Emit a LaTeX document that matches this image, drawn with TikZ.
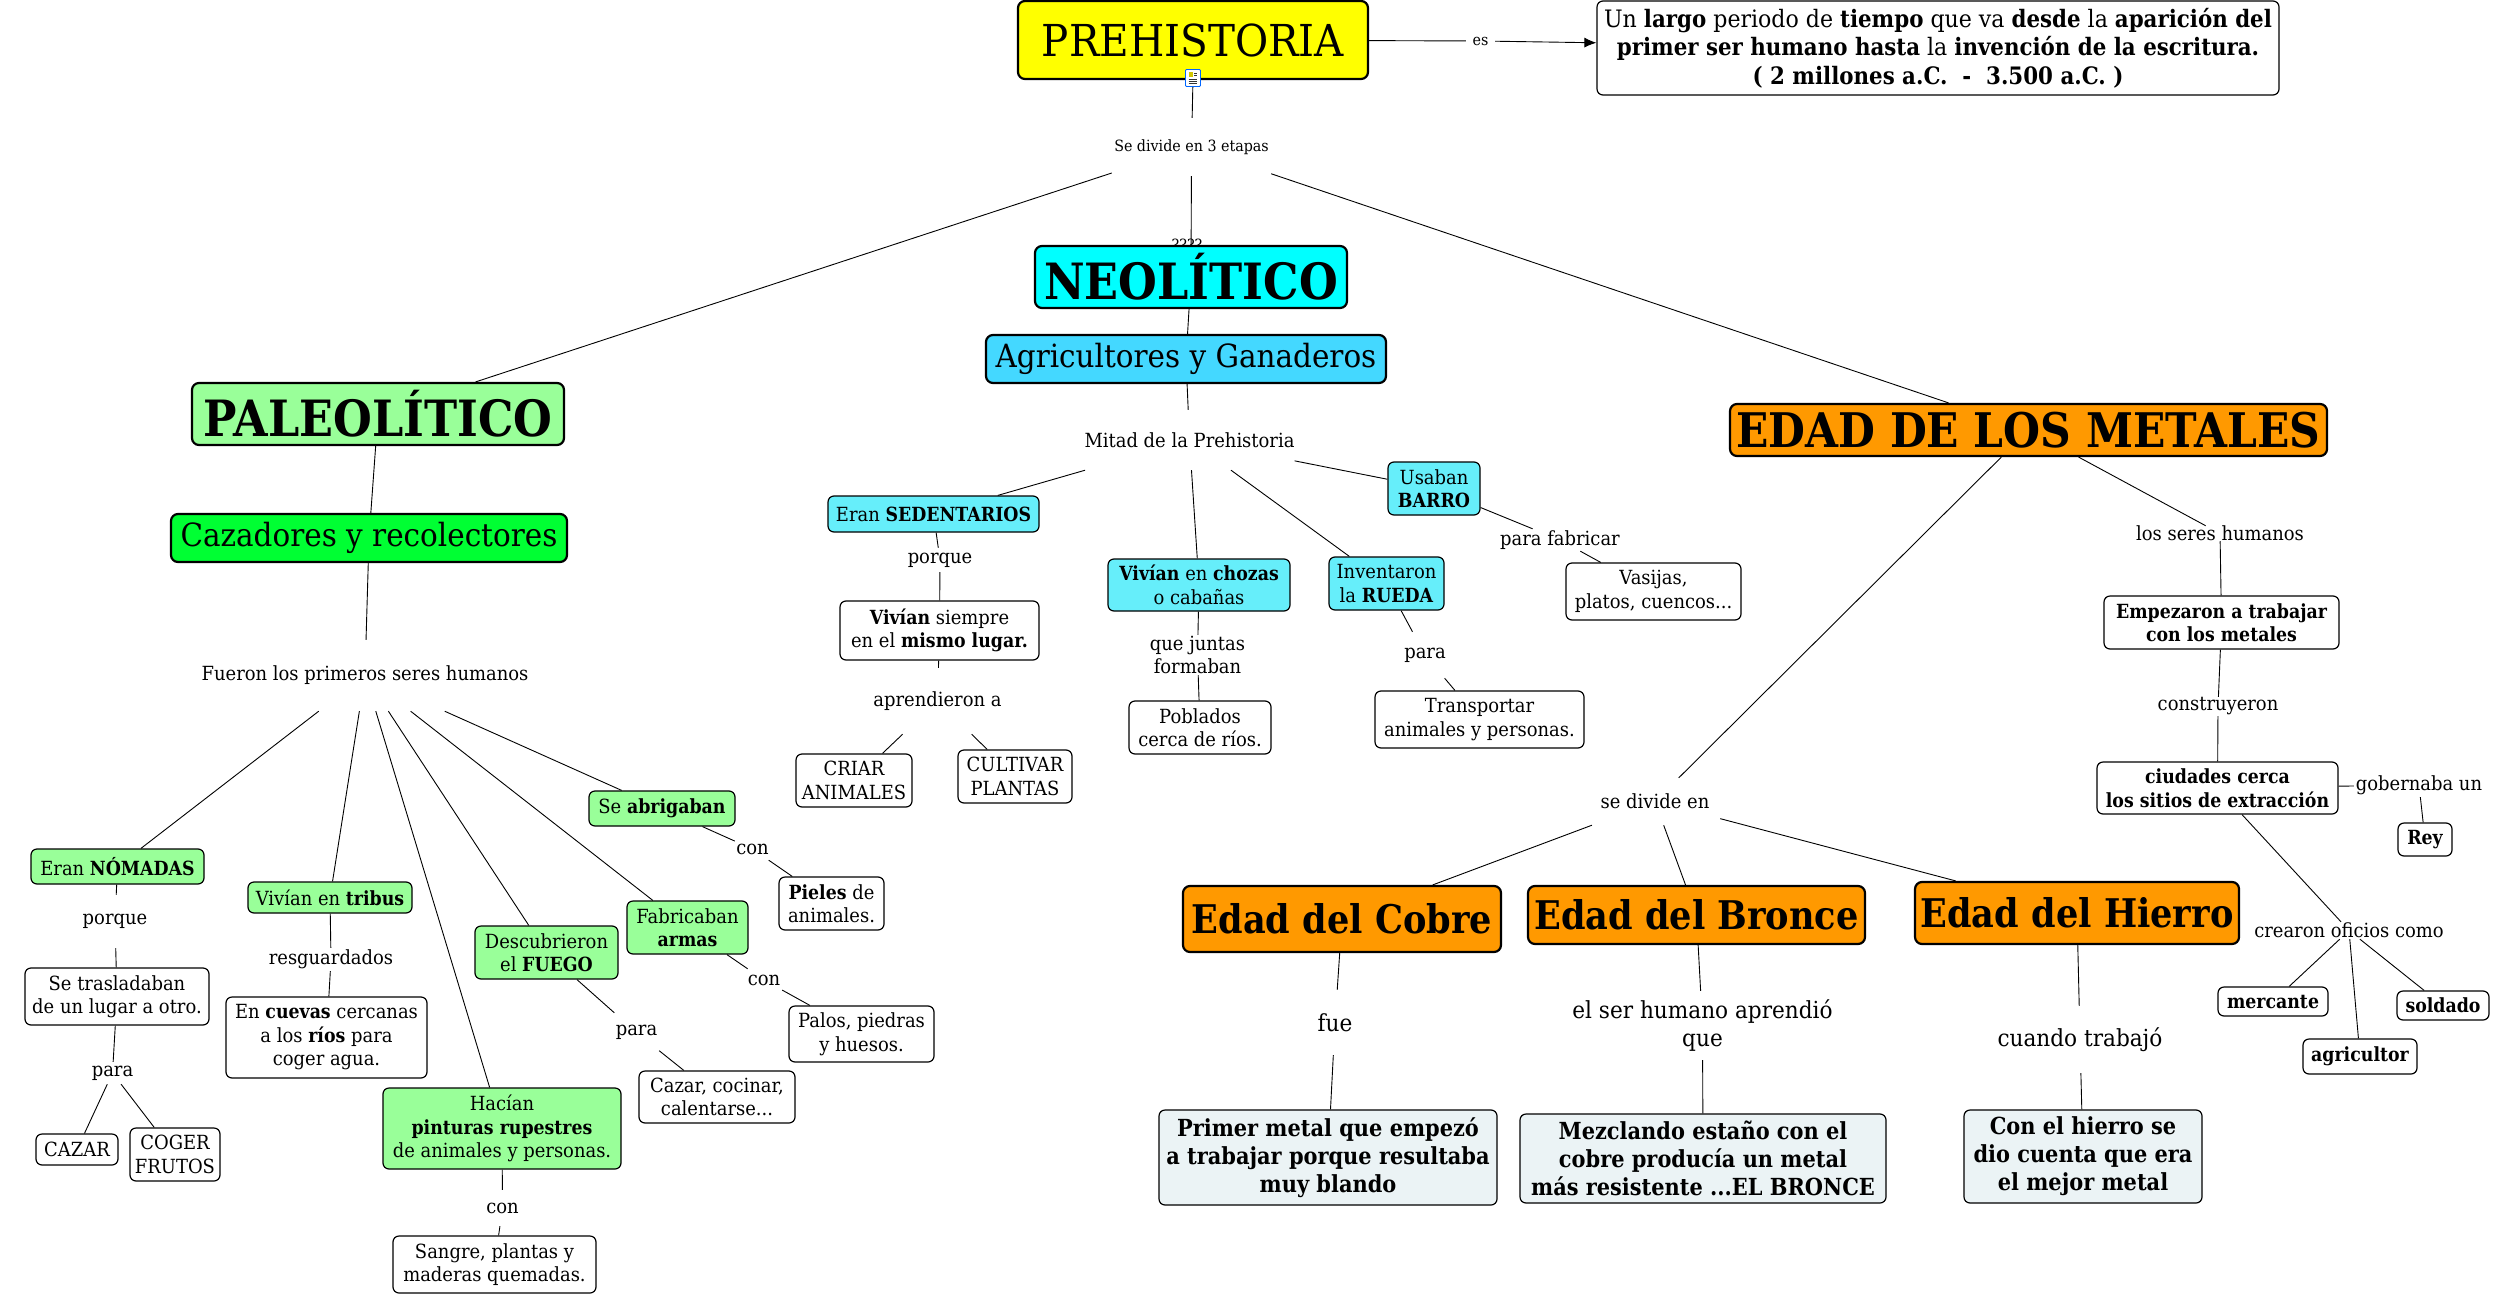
\documentclass[tikz,border=0pt]{standalone}
\usepackage{fontspec}
\setmainfont[FakeStretch=0.92,BoldFont={DejaVu Serif Bold},BoldFeatures={FakeStretch=0.89}]{DejaVu Serif}
\usetikzlibrary{arrows.meta,backgrounds}
\definecolor{palegreen}{HTML}{99FF99}
\definecolor{vivid}{HTML}{00FF33}
\definecolor{skyb}{HTML}{44D8FF}
\definecolor{lightcy}{HTML}{66EEFA}
\definecolor{orng}{HTML}{FF9900}
\definecolor{paleb}{HTML}{EBF3F5}
\definecolor{purecyan}{HTML}{00FFFF}
\definecolor{pureyellow}{HTML}{FFFF00}
\tikzset{
 anybox/.style={inner sep=0pt,align=center,rounded corners=6pt,draw=black,line width=1.2pt,text=black},
 lab/.style={inner sep=0pt,align=center,text=black,font=\fontsize{19.5}{23.5}\selectfont},
 tiny lab/.style={lab,font=\fontsize{15.5}{17}\selectfont},
 mid lab/.style={lab,font=\fontsize{23.5}{28}\selectfont},
 small/.style={anybox,font=\fontsize{19.5}{23.5}\selectfont},
 wbox/.style={small,fill=white},
 wbold/.style={wbox,font=\fontsize{19.5}{23.5}\selectfont\bfseries},
 gbox/.style={small,fill=palegreen},
 cbox/.style={small,fill=lightcy},
 bigbox/.style={anybox,line width=2.2pt,rounded corners=7pt},
 metal/.style={bigbox,fill=orng,font=\fontsize{39.5}{48}\selectfont\bfseries},
 pale/.style={anybox,fill=paleb,font=\fontsize{23.5}{28}\selectfont\bfseries},
 link/.style={line width=0.9pt,draw=black},
}
\newcommand\nbx[7]{%
 \pgfmathsetmacro\mycx{(#3+#5)/2}\pgfmathsetmacro\mycy{(#4+#6)/2}%
 \pgfmathsetmacro\myw{#5-#3}\pgfmathsetmacro\myh{#6-#4}%
 \node[#1,minimum width=\myw pt,minimum height=\myh pt] (#2) at (\mycx,\mycy) {#7};}
\begin{document}
\begin{tikzpicture}[x=1pt,y=-1pt]
\useasboundingbox (0,0) rectangle (2518,1300);
% top
\nbx{tiny lab}{qq}{1172}{236}{1202}{254}{????}
\nbx{bigbox,fill=pureyellow,font=\fontsize{44}{50}\selectfont}{prehist}{1018}{1}{1368}{79}{PREHISTORIA}
\nbx{tiny lab}{es}{1466}{30}{1495}{52}{es}
\nbx{anybox,fill=white,font=\fontsize{24}{28.5}\selectfont}{def}{1597}{1}{2279}{95}{Un \textbf{largo} periodo de \textbf{tiempo} que va \textbf{desde} la \textbf{aparición del}\\\textbf{primer ser humano hasta} la \textbf{invención de la escritura.}\\\textbf{( 2 millones a.C. \ - \ 3.500 a.C. )}}
\nbx{tiny lab}{sediv}{1112}{118}{1271}{176}{Se divide en 3 etapas}
\node[draw=blue!60!cyan,fill=white,line width=0.8pt,rounded corners=1pt,minimum width=15pt,minimum height=17pt,inner sep=0pt] (icon) at (1193,78) {};
\fill[yellow!60!olive] (1188.5,72.5) rectangle (1193,77);
\draw[line width=0.6pt,black!80] (1194,73)--(1197,73) (1194,75.5)--(1197,75.5) (1188.5,79)--(1197,79) (1188.5,81)--(1197,81) (1188.5,83)--(1197,83);
\nbx{bigbox,fill=purecyan,font=\fontsize{50}{56}\selectfont\bfseries}{neo}{1035}{246}{1347}{308}{NEOLÍTICO}
\nbx{bigbox,fill=palegreen,font=\fontsize{50}{56}\selectfont\bfseries}{paleo}{192}{383}{564}{445}{PALEOLÍTICO}
\nbx{bigbox,fill=orng,font=\fontsize{47.7}{52}\selectfont\bfseries}{edad}{1730}{404}{2327}{456}{EDAD DE LOS METALES}
\nbx{bigbox,fill=skyb,font=\fontsize{32}{38}\selectfont}{agri}{986}{335}{1386}{383}{Agricultores y Ganaderos}
\nbx{bigbox,fill=vivid,font=\fontsize{32}{38}\selectfont}{caz}{171}{514}{567}{562}{Cazadores y recolectores}
% paleolitico
\nbx{lab}{fueron}{195}{640}{535}{711}{Fueron los primeros seres humanos}
\nbx{gbox}{nomadas}{31}{849}{204}{884}{Eran \textbf{NÓMADAS}}
\nbx{lab}{porq}{85}{895}{145}{948}{porque}
\nbx{wbox}{trasl}{25}{968}{209}{1025}{Se trasladaban\\de un lugar a otro.}
\nbx{lab}{parac}{90}{1062}{135}{1084}{para}
\nbx{wbox}{cazar}{36}{1134}{118}{1165}{CAZAR}
\nbx{wbox}{coger}{130}{1128}{220}{1181}{COGER\\FRUTOS}
\nbx{gbox}{tribus}{248}{882}{412}{913}{Vivían en \textbf{tribus}}
\nbx{lab}{resg}{265}{948}{397}{971}{resguardados}
\nbx{wbox}{cuevas}{226}{997}{427}{1078}{En \textbf{cuevas} cercanas\\a los \textbf{ríos} para\\coger agua.}
\nbx{gbox}{fuego}{475}{926}{618}{979}{Descubrieron\\el \textbf{FUEGO}}
\nbx{lab}{parcz}{614}{1013}{659}{1052}{para}
\nbx{wbox}{cocinar}{639}{1071}{795}{1123}{Cazar, cocinar,\\calentarse...}
\nbx{gbox}{pinturas}{383}{1088}{621}{1169}{Hacían\\\textbf{pinturas rupestres}\\de animales y personas.}
\nbx{lab}{consang}{485}{1190}{520}{1226}{con}
\nbx{wbox}{sangre}{393}{1236}{596}{1293}{Sangre, plantas y\\maderas quemadas.}
\nbx{gbox}{abrigo}{589}{791}{735}{826}{Se \textbf{abrigaban}}
\nbx{lab}{conpiel}{735}{838}{770}{860}{con}
\nbx{wbox}{pieles}{779}{877}{884}{930}{\textbf{Pieles} de\\animales.}
\nbx{gbox}{armas}{627}{901}{748}{954}{Fabricaban\\\textbf{armas}}
\nbx{lab}{conpal}{746}{969}{782}{991}{con}
\nbx{wbox}{palos}{789}{1006}{934}{1062}{Palos, piedras\\y huesos.}
% neolitico
\nbx{lab}{mitad}{1086}{410}{1293}{470}{Mitad de la Prehistoria}
\nbx{cbox}{sedent}{828}{496}{1039}{532}{Eran \textbf{SEDENTARIOS}}
\nbx{lab}{porqs}{905}{548}{975}{572}{porque}
\nbx{wbox}{mismo}{840}{601}{1039}{660}{\textbf{Vivían} siempre\\en el \textbf{mismo lugar.}}
\nbx{lab}{aprend}{870}{668}{1005}{734}{aprendieron a}
\nbx{wbox}{criar}{796}{754}{912}{807}{CRIAR\\ANIMALES}
\nbx{wbox}{cultivar}{958}{750}{1072}{803}{CULTIVAR\\PLANTAS}
\nbx{cbox}{chozas}{1108}{559}{1290}{611}{\textbf{Vivían} en \textbf{chozas}\\o cabañas}
\nbx{lab}{juntas}{1150}{635}{1245}{675}{que juntas\\formaban}
\nbx{wbox}{pobl}{1129}{701}{1271}{754}{Poblados\\cerca de ríos.}
\nbx{cbox}{rueda}{1329}{557}{1444}{610}{Inventaron\\la \textbf{RUEDA}}
\nbx{lab}{parat}{1400}{632}{1450}{678}{para}
\nbx{wbox}{transp}{1375}{691}{1584}{748}{Transportar\\animales y personas.}
\nbx{cbox}{barro}{1388}{462}{1480}{515}{Usaban\\\textbf{BARRO}}
\nbx{lab}{parafab}{1500}{529}{1620}{551}{para fabricar}
\nbx{wbox}{vasijas}{1566}{563}{1741}{620}{Vasijas,\\platos, cuencos...}
% metales
\nbx{lab}{sediven}{1590}{778}{1720}{825}{se divide en}
\nbx{metal}{cobre}{1183}{886}{1501}{952}{Edad del Cobre}
\nbx{metal}{bronce}{1528}{886}{1865}{944}{Edad del Bronce}
\nbx{metal}{hierro}{1915}{882}{2239}{944}{Edad del Hierro}
\nbx{mid lab}{fue}{1300}{990}{1370}{1055}{fue}
\nbx{mid lab}{ser}{1565}{991}{1840}{1060}{el ser humano aprendió\\que}
\nbx{mid lab}{cuando}{1990}{1006}{2170}{1073}{cuando trabajó}
\nbx{pale}{primer}{1159}{1110}{1497}{1205}{Primer metal que empezó\\a trabajar porque resultaba\\muy blando}
\nbx{pale}{mezcl}{1520}{1114}{1886}{1203}{Mezclando estaño con el\\cobre producía un metal\\más resistente ...EL BRONCE}
\nbx{pale}{conh}{1964}{1110}{2202}{1203}{Con el hierro se\\dio cuenta que era\\el mejor metal}
\nbx{lab}{seres}{2136}{526}{2304}{541}{los seres humanos}
\nbx{wbold}{empez}{2104}{596}{2339}{649}{Empezaron a trabajar\\con los metales}
\nbx{lab}{constr}{2157}{697}{2279}{716}{construyeron}
\nbx{wbold}{ciud}{2097}{762}{2338}{814}{ciudades cerca\\los sitios de extracción}
\nbx{lab}{gob}{2354}{773}{2484}{797}{gobernaba un}
\nbx{wbold}{rey}{2398}{823}{2452}{856}{Rey}
\nbx{lab}{oficios}{2253}{922}{2445}{939}{crearon oficios como}
\nbx{wbold}{merc}{2218}{987}{2328}{1016}{mercante}
\nbx{wbold}{sold}{2397}{991}{2489}{1020}{soldado}
\nbx{wbold}{agric}{2303}{1039}{2417}{1074}{agricultor}
\begin{scope}[on background layer]
\fill[white] (0,0) rectangle (2518,1300);
\draw[link] (prehist)--(es);
\draw[link,-{Latex[length=12pt,width=10pt]}] (es)--(def);
\foreach \a/\b in {icon/sediv,sediv/paleo,sediv/neo,sediv/edad,neo/agri,agri/mitad,paleo/caz,caz/fueron,
 fueron/nomadas,fueron/tribus,fueron/pinturas,fueron/fuego,fueron/armas,fueron/abrigo,
 nomadas/porq,porq/trasl,trasl/parac,parac/cazar,parac/coger,tribus/resg,resg/cuevas,fuego/parcz,parcz/cocinar,
 pinturas/consang,consang/sangre,abrigo/conpiel,conpiel/pieles,armas/conpal,conpal/palos,
 mitad/sedent,mitad/chozas,mitad/rueda,mitad/barro,sedent/porqs,porqs/mismo,mismo/aprend,aprend/criar,aprend/cultivar,
 chozas/juntas,juntas/pobl,rueda/parat,parat/transp,barro/parafab,parafab/vasijas,
 edad/sediven,edad/seres,sediven/cobre,sediven/bronce,sediven/hierro,cobre/fue,fue/primer,bronce/ser,ser/mezcl,hierro/cuando,cuando/conh,
 seres/empez,empez/constr,constr/ciud,ciud/gob,gob/rey,ciud/oficios,oficios/merc,oficios/sold,oficios/agric}
 {\draw[link] (\a)--(\b);}
\end{scope}
\end{tikzpicture}
\end{document}
